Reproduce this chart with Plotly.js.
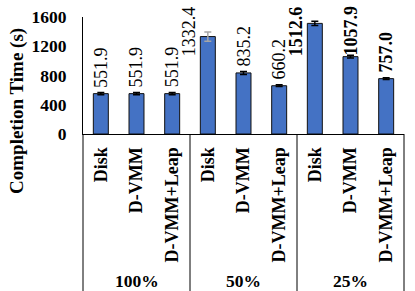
<!DOCTYPE html>
<html><head><meta charset="utf-8">
<script src="https://cdn.plot.ly/plotly-3.0.1.min.js"></script>
<style>html,body{margin:0;padding:0;background:#fff;} #chart{width:415px;height:291px;}</style>
</head><body><div id="chart"></div>
<script>
// ---- data ----
const groups = ['100%', '50%', '25%'];
const methods = ['Disk', 'D-VMM', 'D-VMM+Leap'];
const completionTimes = [551.9, 551.9, 551.9, 1332.4, 835.2, 660.2, 1512.6, 1057.9, 757.0];
const errorValues = [15, 15, 15, 63, 20, 12, 30, 18, 12];
const yTickValues = [0, 400, 800, 1200, 1600];
const valueLabels = ['551.9', '551.9', '551.9', '1332.4', '835.2', '660.2', '1512.6', '1057.9', '757.0'];

// ---- styling ----
const errorColors = ['#000', '#000', '#000', '#a6a6a6', '#000', '#000', '#000', '#000', '#000'];
const labelPlacement = ['above', 'above', 'above', 'left', 'above', 'above', 'left', 'top', 'above'];
const labelBold = [false, false, false, false, false, false, true, true, true];

const FONT = '"Liberation Serif", "Times New Roman", serif';
const xIdx = completionTimes.map((_, i) => i);
const tickText = groups.flatMap(() => methods);

const traces = [{
  type: 'bar',
  x: xIdx,
  y: completionTimes,
  marker: { color: '#4472C4', line: { color: '#111', width: 1 } },
  hoverinfo: 'skip'
}];

[...new Set(errorColors)].forEach(col => {
  const idx = xIdx.filter(i => errorColors[i] === col);
  traces.push({
    type: 'scatter', mode: 'markers',
    x: idx, y: idx.map(i => completionTimes[i]),
    marker: { opacity: 0, size: 1 },
    error_y: { type: 'data', array: idx.map(i => errorValues[i]), color: col, thickness: 1.5, width: 3.5 },
    hoverinfo: 'skip', showlegend: false
  });
});

const annotations = [];
completionTimes.forEach((v, i) => {
  const a = {
    text: valueLabels[i], textangle: -90, showarrow: false,
    xref: 'x', x: i, xanchor: 'center',
    font: { family: FONT, size: 18, color: '#000', weight: labelBold[i] ? 'bold' : 'normal' }
  };
  if (labelPlacement[i] === 'above') {
    Object.assign(a, { yref: 'y', y: v + errorValues[i], yanchor: 'bottom', yshift: 3 });
  } else {
    Object.assign(a, { yref: 'paper', y: 1, yanchor: 'top', yshift: 13 });
    if (labelPlacement[i] === 'left') a.xshift = -18.5;
  }
  annotations.push(a);
});

groups.forEach((g, k) => {
  annotations.push({
    text: g, showarrow: false, xref: 'x', x: k * methods.length + (methods.length - 1) / 2,
    yref: 'paper', y: -1.254, xanchor: 'center', yanchor: 'middle',
    font: { family: FONT, size: 17.5, color: '#000', weight: 'bold' }
  });
});

annotations.push({
  text: 'Completion Time (s)', showarrow: false, textangle: -90,
  xref: 'paper', x: -0.2056, yref: 'paper', y: 0.197, xanchor: 'center', yanchor: 'middle',
  font: { family: FONT, size: 19, color: '#000', weight: 'bold' }
});

const shapes = [];
for (let k = 0; k <= groups.length; k++) {
  shapes.push({
    type: 'line', xref: 'paper', yref: 'paper',
    x0: k / groups.length, x1: k / groups.length, y0: 0, y1: -1.5,
    line: { color: '#000', width: 1 }
  });
}

const layout = {
  width: 415, height: 291,
  margin: { l: 83, r: 11, t: 17, b: 157, pad: 0 },
  paper_bgcolor: '#fff', plot_bgcolor: '#fff',
  showlegend: false,
  bargap: 0.58,
  font: { family: FONT, color: '#000' },
  xaxis: {
    range: [-0.5, 8.5], tickvals: xIdx, ticktext: tickText, tickangle: -90,
    showline: true, linecolor: '#000', linewidth: 1, ticks: '', showgrid: false, zeroline: false,
    ticklabelstandoff: 5,
    tickfont: { family: FONT, size: 18, color: '#000', weight: 'bold' }, fixedrange: true
  },
  yaxis: {
    range: [0, 1600], tickvals: yTickValues, ticktext: yTickValues.map(String),
    showline: true, linecolor: '#000', linewidth: 1, ticks: '', showgrid: false, zeroline: false,
    ticklabelstandoff: 12,
    tickfont: { family: FONT, size: 17.5, color: '#000', weight: 'bold' }, fixedrange: true
  },
  annotations, shapes
};

Plotly.newPlot('chart', traces, layout, { displayModeBar: false, staticPlot: true });
</script>
</body></html>
